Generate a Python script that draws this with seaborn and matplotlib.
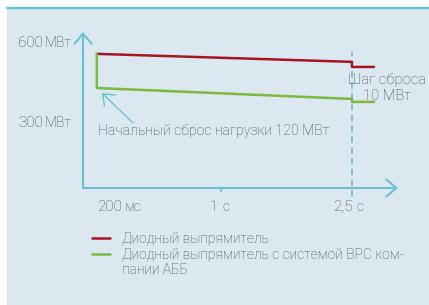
import numpy as np
import pandas as pd
import matplotlib
matplotlib.use('Agg')
from matplotlib import pyplot as plt
from matplotlib.patches import Rectangle
from matplotlib.lines import Line2D
import seaborn as sns

# данные (схема, значения)
t_red = [0.2, 2.5, 2.5, 2.82]
p_red = [559, 529, 510, 510]
t_green = [0.2, 0.2, 2.5, 2.5, 2.82]
p_green = [559, 431, 390, 379, 379]
names = ['Диодный выпрямитель',
         'Диодный выпрямитель с системой ВРС компании АББ']
legend_lines = ['Диодный выпрямитель',
                'Диодный выпрямитель с системой ВРС ком-',
                'пании АББ']
colors = ['#a51520', '#7cba3d']

y_ticks = [600, 300]
x_ticks = [0.2, 1, 2.5]
x_nums = ['200', '1', '2,5']
x_units = ['мс', 'с', 'с']

sns.set_theme(style='white')
plt.rcParams['font.family'] = ['Roboto', 'DejaVu Sans']
plt.rcParams['font.weight'] = 'light'

axis_c = '#6cbfd5'
text_c = '#484848'

df = pd.DataFrame({
    't': t_red + t_green,
    'P': p_red + p_green,
    'series': [names[0]] * len(t_red) + [names[1]] * len(t_green),
})

fig = plt.figure(figsize=(4.29, 3.05), dpi=100, facecolor='white')
# фон панели
fig.patches.append(Rectangle((7 / 429, 0), 1, (305 - 8) / 305, transform=fig.transFigure,
                             facecolor='#dbe8ef', edgecolor='none', zorder=-10))
fig.lines.append(Line2D([7 / 429, 1], [(305 - 8) / 305] * 2, transform=fig.transFigure,
                        color='#5ec0d2', lw=1.6))

ax = fig.add_axes([83 / 429, 117 / 305, 315 / 429, 156 / 305])
ax.set_facecolor('none')
ax.set_xscale('function', functions=(lambda v: np.sqrt(np.clip(v, 0, None)), np.square))
ax.set_xlim(0.1488, 3.189)
ax.set_ylim(56, 641)

sns.lineplot(data=df, x='t', y='P', hue='series', palette=colors, estimator=None,
             sort=False, lw=1.8, ax=ax, zorder=3, legend=False)

for s in ax.spines.values():
    s.set_visible(False)
ax.set_xlabel('')
ax.set_ylabel('')
ax.set_yticks([])
ax.set_xticks([1], labels=[''])
ax.tick_params(axis='x', bottom=True, length=3, width=1.2, color=axis_c, direction='out')

# оси со стрелками
arr = dict(arrowstyle='->,head_length=0.52,head_width=0.44', color=axis_c, lw=1.5,
           mutation_scale=14, shrinkA=0, shrinkB=0)
ax.annotate('', xy=(0, 1), xytext=(0, 0), xycoords='axes fraction', arrowprops=arr)
ax.annotate('', xy=(1, 0), xytext=(0, 0), xycoords='axes fraction', arrowprops=arr)

# пунктир 2,5 с
ax.axvline(2.5, ymin=-0.058, ymax=0.872, color=axis_c, lw=1.2, ls=(0, (4, 2.5)), clip_on=False)

# подписи оси Y
for v in y_ticks:
    u = ax.annotate('МВт', xy=(0, v), xycoords=('axes fraction', 'data'), xytext=(-8, 0),
                    textcoords='offset points', ha='right', va='center', fontsize=10,
                    color=text_c)
    ax.annotate(str(v), xy=(0, 0.5), xycoords=u, xytext=(-1.5, 0),
                textcoords='offset points', ha='right', va='center', fontsize=11,
                color=text_c)

# подписи оси X
x_offs = [0, -8, -13.5]
for t, n, u, dn in zip(x_ticks, x_nums, x_units, x_offs):
    num = ax.annotate(n, xy=(t, 0), xycoords=('data', 'axes fraction'), xytext=(dn, -19),
                      textcoords='offset points', ha='left', va='bottom', fontsize=11,
                      color=text_c)
    ax.annotate(u, xy=(1, 0), xycoords=num, xytext=(2.5, 0.3),
                textcoords='offset points', ha='left', va='bottom', fontsize=10,
                color=text_c)

# аннотации
ax.text(0.205, 270, 'Начальный сброс нагрузки 120 МВт', ha='left', va='center',
        fontsize=10.2, color=text_c)
ax.annotate('', xy=(0.221, 412), xytext=(0.37, 300),
            arrowprops=dict(arrowstyle='->,head_length=0.5,head_width=0.4', color=axis_c,
                            lw=1.0, mutation_scale=14, shrinkA=0, shrinkB=0))
ax.text(3.02, 431, 'Шаг сброса\n10 МВт', ha='center', va='center', fontsize=10.6,
        color=text_c, linespacing=1.2, zorder=4)

# легенда
handles = [Line2D([], [], color=colors[0], lw=1.8),
           Line2D([], [], color=colors[1], lw=1.8),
           Line2D([], [], color='none')]
leg = ax.legend(handles, legend_lines, loc='upper left', bbox_to_anchor=(92 / 429, 73 / 305),
                bbox_transform=fig.transFigure, frameon=False, fontsize=10,
                handlelength=1.3, handletextpad=0.85, labelspacing=0.12, borderpad=0,
                borderaxespad=0)
for txt in leg.get_texts():
    txt.set_color(text_c)

fig.savefig('out.png', dpi=100, facecolor='white')
